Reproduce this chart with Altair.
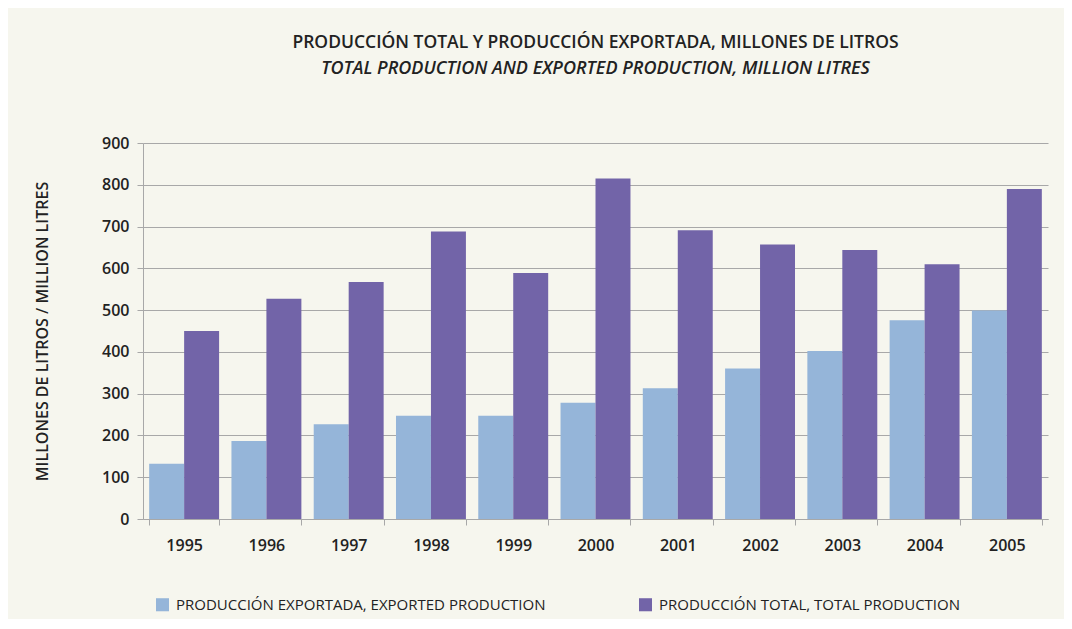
import altair as alt
import pandas as pd

years = ["1995", "1996", "1997", "1998", "1999", "2000", "2001", "2002", "2003", "2004", "2005"]
exported = [132, 187, 227, 247, 247, 278, 313, 360, 402, 476, 499]
total = [450, 527, 567, 688, 589, 815, 691, 657, 644, 610, 790]
series_names = ["PRODUCCIÓN EXPORTADA, EXPORTED PRODUCTION", "PRODUCCIÓN TOTAL, TOTAL PRODUCTION"]
colors = ["#95b5d9", "#7264a8"]

rows = []
for y, e, t in zip(years, exported, total):
    rows.append({"year": y, "series": series_names[0], "value": e})
    rows.append({"year": y, "series": series_names[1], "value": t})
df = pd.DataFrame(rows)

FONT = "Open Sans"
BG = "#f6f6ee"
GRID = "#a8a8a8"

chart = alt.Chart(df).mark_bar().encode(
    x=alt.X("year:N", sort=years, title=None,
            scale=alt.Scale(paddingInner=0.15, paddingOuter=0.075),
            axis=alt.Axis(labelAngle=0, tickBand="extent", tickSize=6, tickColor=GRID,
                          domainColor=GRID, labelPadding=12, labelFontSize=16,
                          labelFont=FONT, labelFontWeight=600, labelColor="#222222")),
    xOffset=alt.XOffset("series:N", sort=series_names),
    y=alt.Y("value:Q", title="MILLONES DE LITROS / MILLION LITRES",
            scale=alt.Scale(domain=[0, 900], nice=False),
            axis=alt.Axis(values=list(range(0, 1000, 100)), tickSize=6, tickColor=GRID,
                          domainColor=GRID, gridColor=GRID, gridWidth=1.2, labelPadding=8,
                          labelFontSize=16, labelFont=FONT, labelFontWeight=600,
                          labelColor="#222222", titleFont=FONT, titleFontSize=16,
                          titleFontWeight=600, titleColor="#222222", titleX=-93, titleY=188,
                          titleAngle=270)),
    color=alt.Color("series:N", sort=series_names,
                    scale=alt.Scale(domain=series_names, range=colors),
                    legend=alt.Legend(title=None, orient="none", legendX=12, legendY=454,
                                      direction="horizontal", symbolType="square",
                                      symbolSize=170, symbolStrokeWidth=0, symbolOpacity=1,
                                      labelFont=FONT, labelFontSize=15, labelFontWeight=500,
                                      labelColor="#222222", labelLimit=700,
                                      columnPadding=92, labelOffset=6)),
).properties(
    width=905,
    height=376,
    background=BG,
    autosize=alt.AutoSizeParams(type="none"),
    padding={"left": 135, "top": 135, "right": 16, "bottom": 100},
    title=alt.TitleParams(
        text="PRODUCCIÓN TOTAL Y PRODUCCIÓN EXPORTADA, MILLONES DE LITROS",
        subtitle="TOTAL PRODUCTION AND EXPORTED PRODUCTION, MILLION LITRES",
        font=FONT, fontSize=17.5, fontWeight=600, color="#222222",
        subtitleFont=FONT, subtitleFontSize=18, subtitleFontWeight=600,
        subtitleFontStyle="italic", subtitleColor="#222222", subtitlePadding=9,
        anchor="middle", offset=57,
    ),
).configure_view(stroke=None)

chart.save("out.html", embed_options={"renderer": "svg", "actions": False})
